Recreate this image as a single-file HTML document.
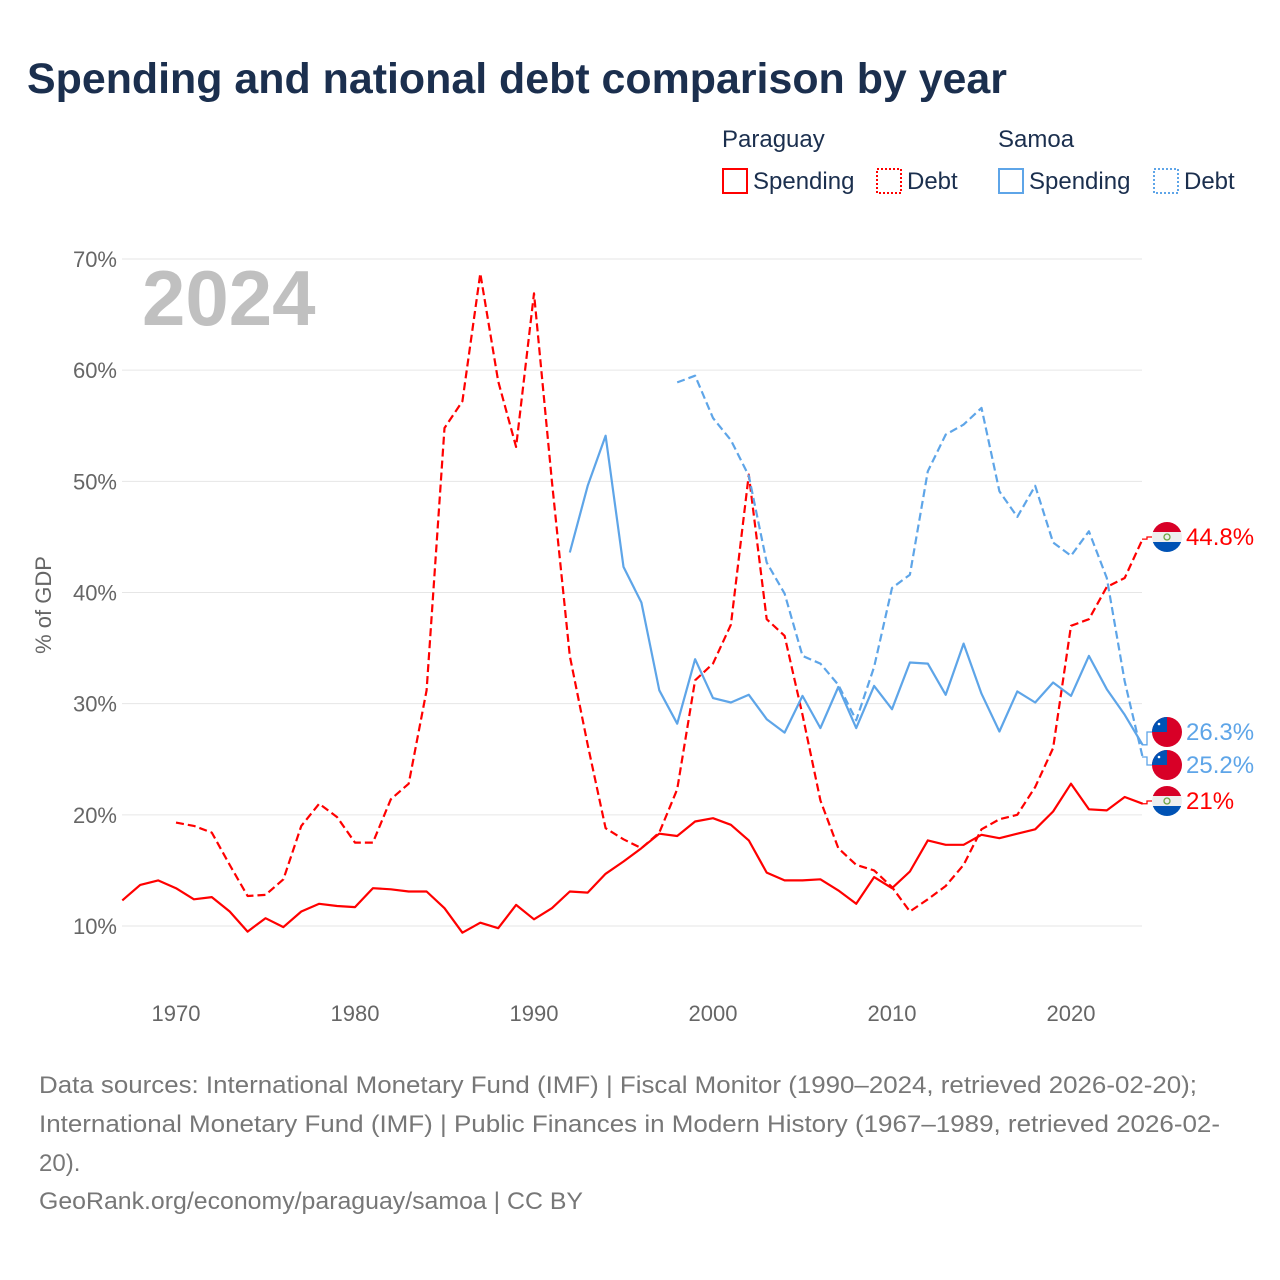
<!DOCTYPE html>
<html><head><meta charset="utf-8">
<style>
body{margin:0;background:#fff;font-family:"Liberation Sans",sans-serif;}
#wrap{position:relative;width:1280px;height:1280px;overflow:hidden;}
</style></head>
<body>
<div id="wrap">
<svg id="chart" width="1280" height="1280">
<text x="27" y="93" font-size="43" font-weight="bold" fill="#1b2f4e" textLength="980" lengthAdjust="spacingAndGlyphs">Spending and national debt comparison by year</text>
<g font-size="24" fill="#1b2f4e">
<text x="722" y="147">Paraguay</text>
<text x="998" y="147">Samoa</text>
<g><rect x="723" y="169" width="24" height="24" fill="none" stroke="#ff0000" stroke-width="2"/><text x="753" y="189">Spending</text></g>
<g><rect x="877" y="169" width="24" height="24" fill="none" stroke="#ff0000" stroke-width="2" stroke-dasharray="2,2"/><text x="907" y="189">Debt</text></g>
<g><rect x="999" y="169" width="24" height="24" fill="none" stroke="#5ea5e8" stroke-width="2"/><text x="1029" y="189">Spending</text></g>
<g><rect x="1154" y="169" width="24" height="24" fill="none" stroke="#5ea5e8" stroke-width="2" stroke-dasharray="2,2"/><text x="1184" y="189">Debt</text></g>
</g>
<text x="142" y="325" font-size="78" font-weight="bold" fill="#c0c0c0">2024</text>
<text transform="translate(51,605) rotate(-90)" text-anchor="middle" font-size="22" fill="#666">% of GDP</text>
<g id="grid"></g><g id="series"></g><g id="labels"></g>
<g font-size="24" fill="#777">
<text x="39" y="1093" textLength="1158" lengthAdjust="spacingAndGlyphs">Data sources: International Monetary Fund (IMF) | Fiscal Monitor (1990–2024, retrieved 2026-02-20);</text>
<text x="39" y="1132" textLength="1181" lengthAdjust="spacingAndGlyphs">International Monetary Fund (IMF) | Public Finances in Modern History (1967–1989, retrieved 2026-02-</text>
<text x="39" y="1171">20).</text>
<text x="39" y="1209" textLength="544" lengthAdjust="spacingAndGlyphs">GeoRank.org/economy/paraguay/samoa | CC BY</text>
</g>
</svg>
</div>
<script>
const yTicks = [10,20,30,40,50,60,70];
const xTicks = [1970,1980,1990,2000,2010,2020];
const pySpendStart = 1967;
const pySpending = [12.3,13.7,14.1,13.4,12.4,12.6,11.3,9.5,10.7,9.9,11.3,12.0,11.8,11.7,13.4,13.3,13.1,13.1,11.6,9.4,10.3,9.8,11.9,10.6,11.6,13.1,13.0,14.7,15.8,17.0,18.3,18.1,19.4,19.7,19.1,17.7,14.8,14.1,14.1,14.2,13.2,12.0,14.4,13.4,14.9,17.7,17.3,17.3,18.2,17.9,18.3,18.7,20.3,22.8,20.5,20.4,21.6,21.0];
const pyDebtStart = 1970;
const pyDebt = [19.3,19.0,18.4,15.5,12.7,12.8,14.2,19.0,21.0,19.8,17.5,17.5,21.4,22.8,31.2,54.8,57.2,68.7,59.0,53.1,66.9,50.0,34.3,26.3,18.8,17.8,17.0,18.4,22.3,32.1,33.6,37.1,50.6,37.6,36.1,29.0,21.3,17.0,15.5,15.0,13.5,11.3,12.4,13.6,15.5,18.7,19.6,20.0,22.5,26.0,37.0,37.6,40.5,41.3,44.8];
const wsSpendStart = 1992;
const wsSpending = [43.6,49.6,54.1,42.3,39.1,31.2,28.2,34.0,30.5,30.1,30.8,28.6,27.4,30.7,27.8,31.5,27.8,31.6,29.5,33.7,33.6,30.8,35.4,30.9,27.5,31.1,30.1,31.9,30.7,34.3,31.3,29.0,26.3];
const wsDebtStart = 1998;
const wsDebt = [58.9,59.5,55.7,53.7,50.5,42.7,39.9,34.3,33.6,31.7,28.5,33.3,40.4,41.6,50.9,54.2,55.1,56.6,49.1,46.8,49.6,44.5,43.3,45.5,41.3,32.0,25.2];

const NS='http://www.w3.org/2000/svg';
function X(yr){return 176+(yr-1970)*17.9;}
function Y(v){return 926-(v-10)*11.117;}
function mk(tag,attrs,parent){const e=document.createElementNS(NS,tag);for(const k in attrs)e.setAttribute(k,attrs[k]);parent.appendChild(e);return e;}
const grid=document.getElementById('grid');
yTicks.forEach(t=>{
  const l=mk('line',{x1:122,x2:1142,y1:Y(t),y2:Y(t),stroke:'#e6e6e6','stroke-width':1},grid);
  
  
  const tx=mk('text',{x:117,y:Y(t)+8,'text-anchor':'end','font-size':22,fill:'#666'},grid);
  tx.textContent=t+'%';
  
  
});
xTicks.forEach(t=>{
  const tx=mk('text',{x:X(t),y:1021,'text-anchor':'middle','font-size':22,fill:'#666'},grid);
  tx.textContent=t;
  
  
});
const ser=document.getElementById('series');
function draw(vals,start,color,dash,name){
  const pts=vals.map((v,i)=>X(start+i).toFixed(1)+','+Y(v).toFixed(1)).join(' ');
  const p=mk('polyline',{points:pts,fill:'none',stroke:color,'stroke-width':2.2,'stroke-linejoin':'round'},ser);
  if(dash)p.setAttribute('stroke-dasharray','8,4');
  
  
}
draw(pyDebt,pyDebtStart,'#ff0000',true,'line-paraguay-debt');
draw(wsDebt,wsDebtStart,'#5ea5e8',true,'line-samoa-debt');
draw(wsSpending,wsSpendStart,'#5ea5e8',false,'line-samoa-spending');
draw(pySpending,pySpendStart,'#ff0000',false,'line-paraguay-spending');

const lab=document.getElementById('labels');
function endLabel(val,labelY,color,flag,name){
  const lastY=Y(val);
  const g=mk('g',{},lab);
  
  
  mk('polyline',{points:`1142,${lastY} 1147,${lastY} 1147,${labelY} 1152,${labelY}`,fill:'none',stroke:color,'stroke-width':1.3},g);
  const cx=1167,cy=labelY,r=15;
  const cp='clip'+name;
  const d=mk('defs',{},g);const c=mk('clipPath',{id:cp},d);mk('circle',{cx,cy,r},c);
  const fg=mk('g',{'clip-path':`url(#${cp})`},g);
  if(flag==='py'){
    mk('rect',{x:cx-r,y:cy-r,width:30,height:10,fill:'#d80027'},fg);
    mk('rect',{x:cx-r,y:cy-5,width:30,height:10,fill:'#eeeeee'},fg);
    mk('rect',{x:cx-r,y:cy+5,width:30,height:10,fill:'#0052b4'},fg);
    mk('circle',{cx,cy,r:3,fill:'none',stroke:'#6da544','stroke-width':1.3},fg);
  } else {
    mk('rect',{x:cx-r,y:cy-r,width:30,height:30,fill:'#d80027'},fg);
    mk('rect',{x:cx-r,y:cy-r,width:15,height:15,fill:'#0052b4'},fg);
    mk('circle',{cx:cx-8,cy:cy-8,r:1.3,fill:'#fff'},fg);
  }
  const t=mk('text',{x:1186,y:labelY+8,'font-size':24,fill:color},g);
  t.textContent=val+'%';
}
endLabel(pyDebt[pyDebt.length-1],537,'#ff0000','py','end-label-paraguay-debt');
endLabel(wsSpending[wsSpending.length-1],732,'#5ea5e8','ws','end-label-samoa-spending');
endLabel(wsDebt[wsDebt.length-1],765,'#5ea5e8','ws','end-label-samoa-debt');
endLabel(pySpending[pySpending.length-1],801,'#ff0000','py','end-label-paraguay-spending');
</script>
</body></html>
